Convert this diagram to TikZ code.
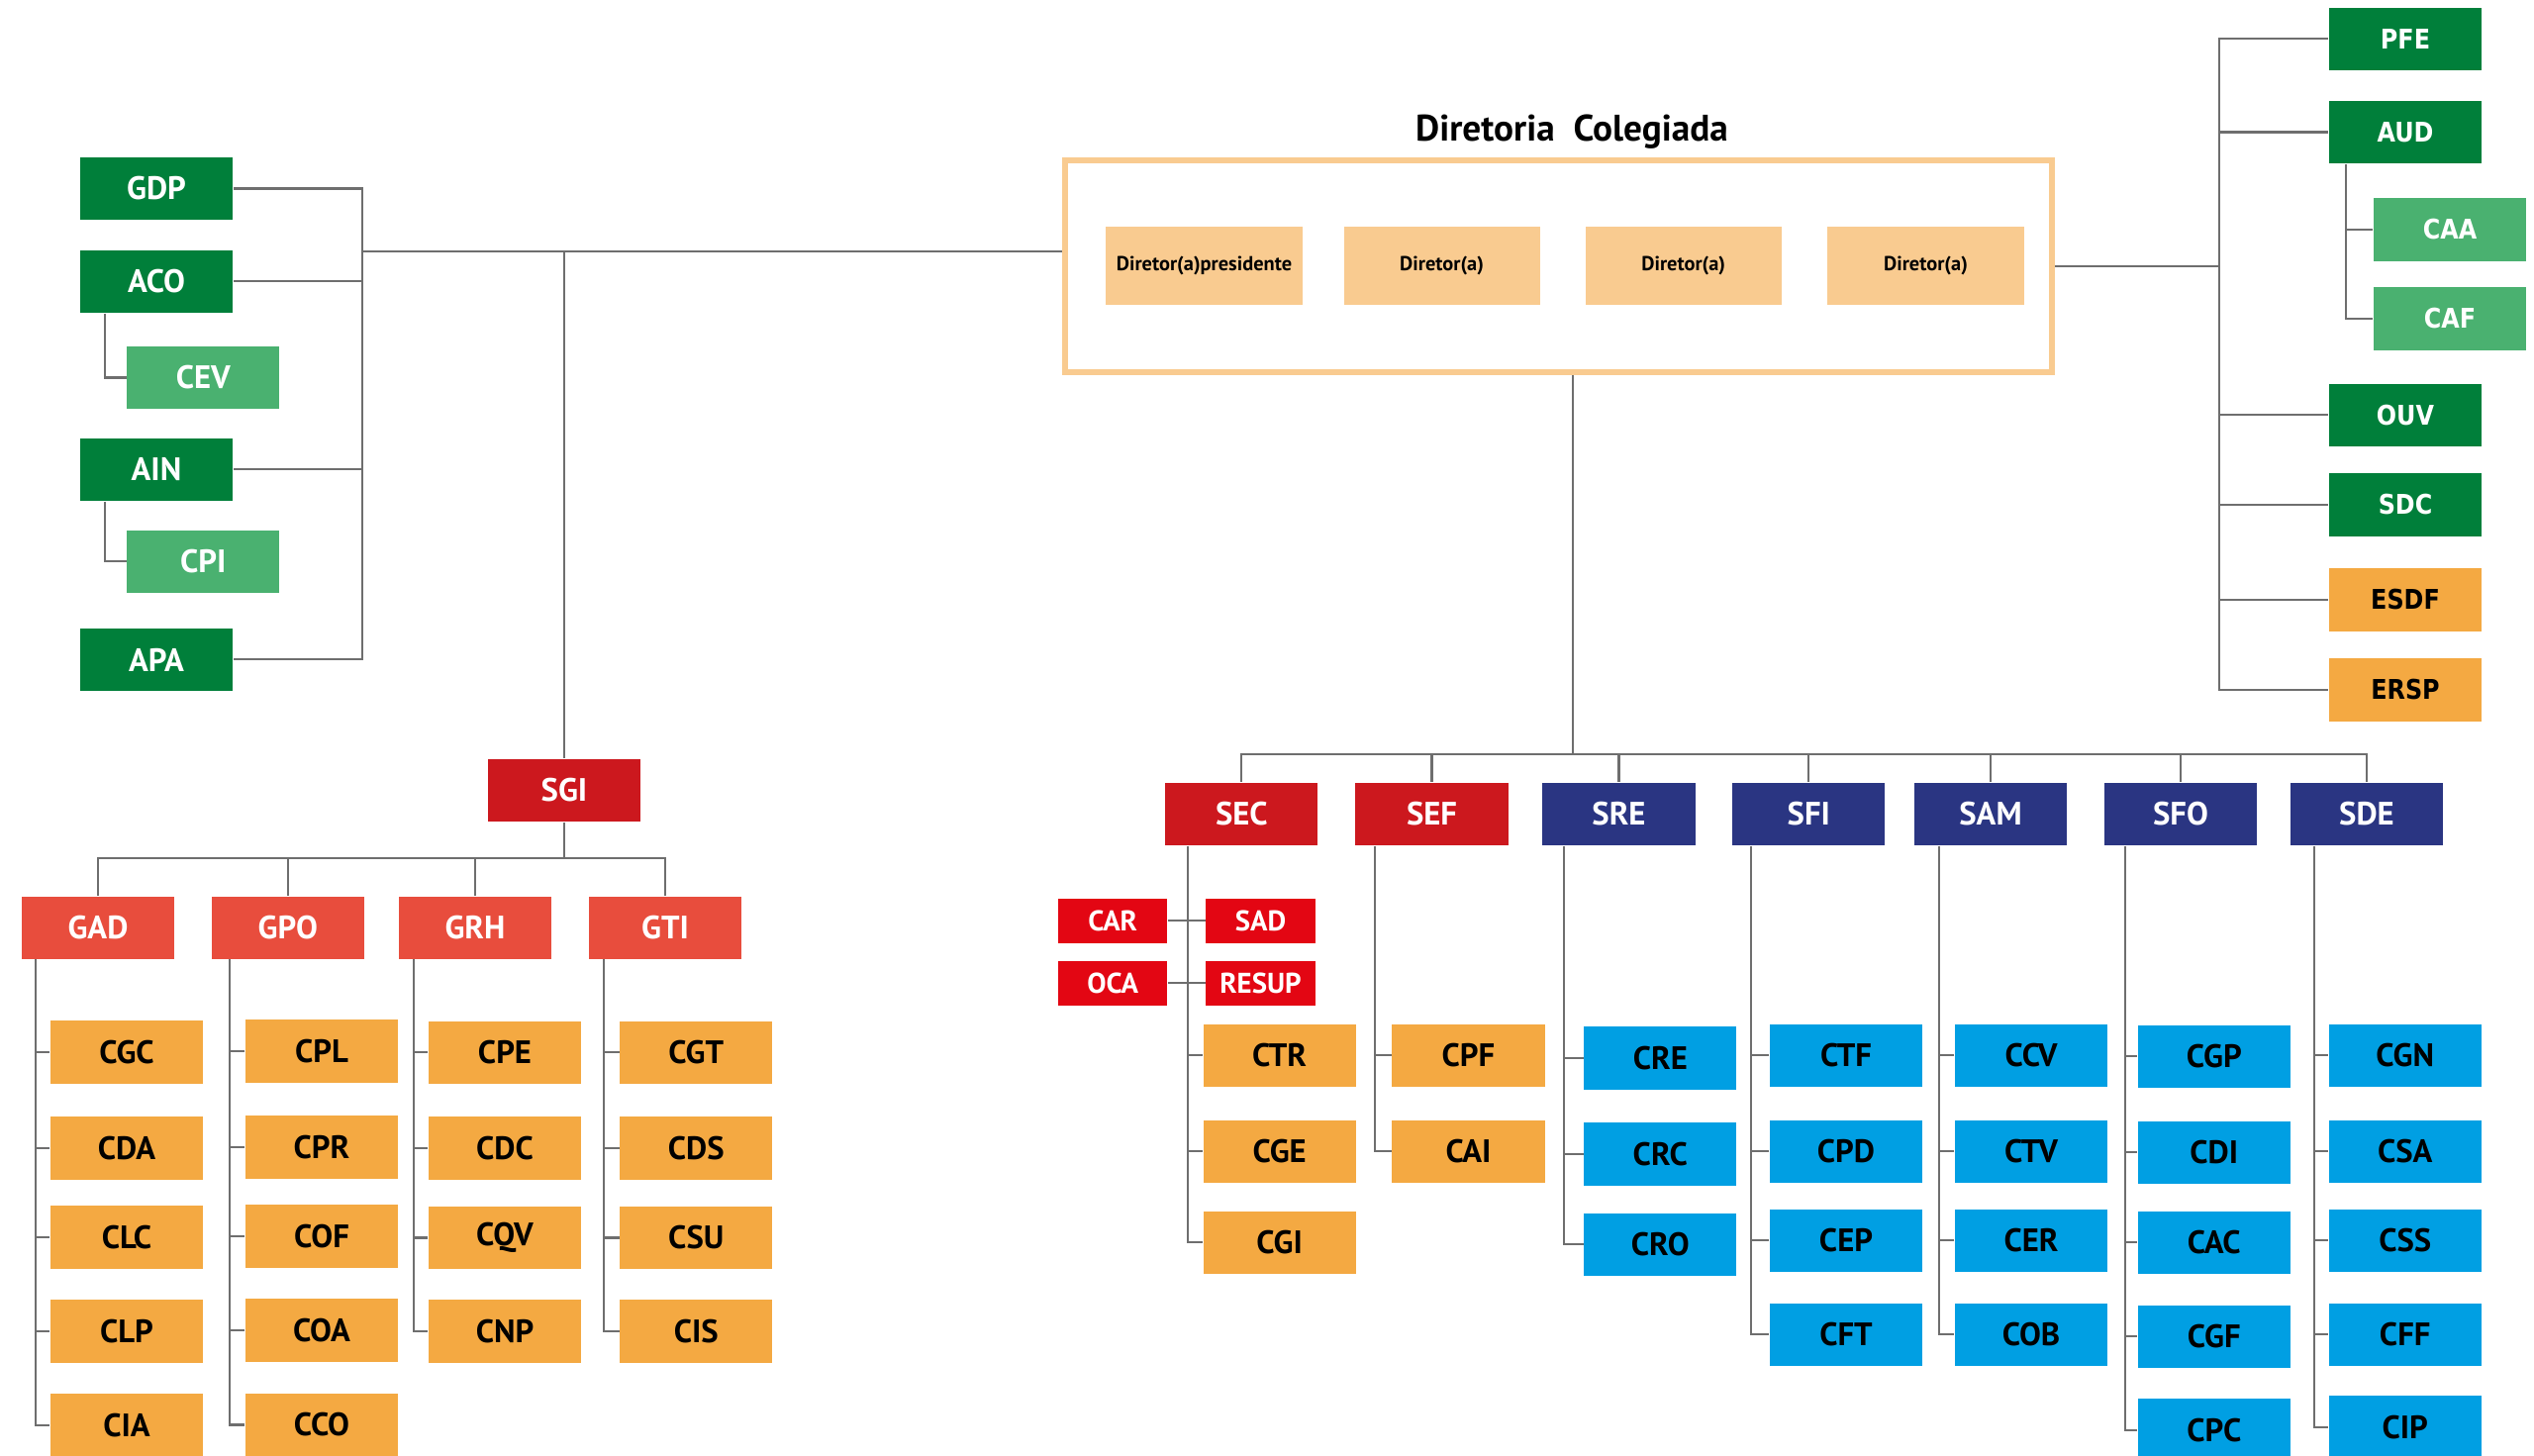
\documentclass[tikz,border=0pt]{standalone}
\usepackage{fontspec}
\setmainfont{PT Sans}
\newfontfamily\widefont[FakeStretch=0.87]{DejaVu Sans}
\usetikzlibrary{calc}
\definecolor{darkgreen}{HTML}{007F3A}
\definecolor{lightgreen}{HTML}{4AB170}
\definecolor{unitorange}{HTML}{F4A942}
\definecolor{peach}{HTML}{F9CB90}
\definecolor{darkred}{HTML}{CC181E}
\definecolor{midred}{HTML}{E84D3D}
\definecolor{brightred}{HTML}{E30613}
\definecolor{navyblue}{HTML}{2A3582}
\definecolor{skyblue}{HTML}{009FE3}
\definecolor{linegray}{HTML}{6E6E6E}

\tikzset{
  unit/.style={rectangle, inner sep=0pt, minimum width=1.54cm, minimum height=0.63cm,
    font=\bfseries\fontsize{9.3}{11}\selectfont},
  gbox/.style={unit, fill=darkgreen, text=white},
  lgbox/.style={unit, fill=lightgreen, text=white},
  obox/.style={unit, fill=unitorange},
  rbox/.style={unit, fill=darkred, text=white},
  mbox/.style={unit, fill=midred, text=white},
  nbox/.style={unit, fill=navyblue, text=white},
  cbox/.style={unit, fill=skyblue},
  sbox/.style={unit, minimum width=1.10cm, minimum height=0.45cm, fill=brightred, text=white,
    font=\bfseries\fontsize{8.2}{10}\selectfont},
  dbox/.style={rectangle, inner sep=0pt, minimum width=1.98cm, minimum height=0.78cm,
    fill=peach, font=\bfseries\fontsize{5.8}{7}\selectfont},
  wide/.style={font=\widefont\bfseries\fontsize{7.8}{9}\selectfont},
  link/.style={draw=linegray, line width=0.6pt},
}

\begin{document}
\begin{tikzpicture}[x=0.01cm, y=-0.01cm]
  \useasboundingbox (0,0) rectangle (2560,1471);
  \clip (0,0) rectangle (2560,1471);

  % diretoria colegiada
  \node[font=\bfseries\fontsize{10.6}{12}\selectfont, anchor=base] (titulo) at (1588,143) {Diretoria\ \ Colegiada};
  \node[draw=peach, line width=0.06cm, minimum width=9.97cm, minimum height=2.14cm, inner sep=0pt] (dir) at (1574.5,269) {};
  \node[dbox] (pres) at (1216.5,268.5) {Diretor(a)presidente};
  \node[dbox] (dirA) at (1456.6,268.5) {\raisebox{1.5pt}{Diretor(a)}};
  \node[dbox] (dirB) at (1700.7,268.5) {\raisebox{1.5pt}{Diretor(a)}};
  \node[dbox] (dirC) at (1945.5,268.5) {\raisebox{1.5pt}{Diretor(a)}};

  % lado esquerdo
  \foreach \n/\y in {GDP/190.5, ACO/284.4, AIN/474.4, APA/666.4}
    \node[gbox] (\n) at (158,\y) {\n};
  \node[lgbox] (CEV) at (205.3,381.5) {CEV};
  \node[lgbox] (CPI) at (205.3,567.4) {CPI};

  % lado direito
  \foreach \n/\y in {PFE/39.4, AUD/133.5, OUV/419.4, SDC/510}
    \node[gbox, wide] (\n) at (2430,\y) {\n};
  \foreach \n/\y in {CAA/232, CAF/322}
    \node[lgbox, wide] (\n) at (2475,\y) {\n};
  \foreach \n/\y in {ESDF/606, ERSP/697}
    \node[obox, wide] (\n) at (2430,\y) {\n};

  % SGI
  \node[rbox] (SGI) at (570,798.3) {SGI};
  \foreach \n/\x in {GAD/99, GPO/290.8, GRH/480, GTI/672}
    \node[mbox] (\n) at (\x,937.2) {\n};
  \foreach \n/\y in {CGC/1063, CDA/1160, CLC/1250, CLP/1345, CIA/1440}
    \node[obox] (\n) at (128,\y) {\n};
  \foreach \n/\y in {CPL/1062, CPR/1159, COF/1249, COA/1344, CCO/1439.5}
    \node[obox] (\n) at (325,\y) {\n};
  \foreach \n/\y in {CPE/1063.4, CDC/1160, CQV/1250.5, CNP/1345}
    \node[obox] (\n) at (510,\y) {\n};
  \foreach \n/\y in {CGT/1063.4, CDS/1160, CSU/1250.5, CIS/1345}
    \node[obox] (\n) at (703.3,\y) {\n};

  % superintendencias
  \foreach \n/\x in {SEC/1254.4, SEF/1446.5}
    \node[rbox] (\n) at (\x,822.3) {\n};
  \foreach \n/\x in {SRE/1635.5, SFI/1827.3, SAM/2011, SFO/2203, SDE/2391}
    \node[nbox] (\n) at (\x,822.3) {\n};
  \node[sbox] (CAR) at (1124.2,930.2) {CAR};
  \node[sbox] (SAD) at (1273.5,930.2) {SAD};
  \node[sbox] (OCA) at (1124.2,993.2) {OCA};
  \node[sbox] (RESUP) at (1273.5,993.2) {RESUP};
  \foreach \n/\y in {CTR/1066.3, CGE/1163.3, CGI/1255.2}
    \node[obox] (\n) at (1292.6,\y) {\n};
  \foreach \n/\y in {CPF/1066.3, CAI/1163.3}
    \node[obox] (\n) at (1483.5,\y) {\n};
  \foreach \n/\y in {CRE/1069, CRC/1166, CRO/1257.3}
    \node[cbox] (\n) at (1677.3,\y) {\n};
  \foreach \n/\y in {CTF/1066.3, CPD/1163.3, CEP/1253.3, CFT/1348.3}
    \node[cbox] (\n) at (1865,\y) {\n};
  \foreach \n/\y in {CCV/1066.3, CTV/1163.3, CER/1253.3, COB/1348.3}
    \node[cbox] (\n) at (2052,\y) {\n};
  \foreach \n/\y in {CGP/1067.3, CDI/1164.3, CAC/1255.2, CGF/1350.3, CPC/1445}
    \node[cbox] (\n) at (2236.8,\y) {\n};
  \foreach \n/\y in {CGN/1066.3, CSA/1163.3, CSS/1253.3, CFF/1348.3, CIP/1441.8}
    \node[cbox] (\n) at (2429.7,\y) {\n};

  % ligacoes
  \coordinate (lbar) at (366,254);
  \draw[link] (GDP.east) -- (GDP.east -| lbar) -- (APA.east -| lbar) -- (APA.east);
  \foreach \n in {ACO, AIN}
    \draw[link] (\n.east) -- (\n.east -| lbar);
  \draw[link] (lbar) -- (lbar -| dir.west);
  \draw[link] (SGI.north) -- (SGI.north |- lbar);
  \draw[link] ([xshift=0.258cm]ACO.south west) |- (CEV.west);
  \draw[link] ([xshift=0.258cm]AIN.south west) |- (CPI.west);

  \coordinate (rbar) at (2242,269);
  \draw[link] (dir.east) -- (rbar);
  \draw[link] (PFE.west) -- (PFE.west -| rbar) -- (ERSP.west -| rbar) -- (ERSP.west);
  \foreach \n in {AUD, OUV, SDC, ESDF}
    \draw[link] (\n.west) -- (\n.west -| rbar);
  \coordinate (AUD-v) at ([xshift=0.18cm]AUD.south west);
  \draw[link] (AUD-v) |- (CAF.west);
  \draw[link] (CAA.west) -- (CAA.west -| AUD-v);

  \coordinate (gbar) at (570,866.8);
  \draw[link] (SGI.south) -- (gbar);
  \draw[link] (GAD.north) -- (GAD.north |- gbar) -- (GTI.north |- gbar) -- (GTI.north);
  \foreach \n in {GPO, GRH}
    \draw[link] (\n.north) -- (\n.north |- gbar);

  \coordinate (sbar) at (1589,762);
  \draw[link] (dir.south -| sbar) -- (sbar);
  \draw[link] (SEC.north) -- (SEC.north |- sbar) -- (SDE.north |- sbar) -- (SDE.north);
  \foreach \n in {SEF, SRE, SFI, SAM, SFO}
    \draw[link] (\n.north) -- (\n.north |- sbar);
  \draw[link] (CAR.east) -- (SAD.west);
  \draw[link] (OCA.east) -- (RESUP.west);

  \foreach \p/\s/\last/\kids in {GAD/0.147/CIA/{CGC,CDA,CLC,CLP}, GPO/0.19/CCO/{CPL,CPR,COF,COA},
      GRH/0.16/CNP/{CPE,CDC,CQV}, GTI/0.153/CIS/{CGT,CDS,CSU}, SEC/0.23/CGI/{CTR,CGE},
      SEF/0.2/CAI/{CPF}, SRE/0.22/CRO/{CRE,CRC}, SFI/0.194/CFT/{CTF,CPD,CEP},
      SAM/0.26/COB/{CCV,CTV,CER}, SFO/0.22/CPC/{CGP,CDI,CAC,CGF}, SDE/0.25/CIP/{CGN,CSA,CSS,CFF}} {
    \coordinate (\p-v) at ([xshift=\s cm]\p.south west);
    \draw[link] (\p-v) |- (\last.west);
    \foreach \k in \kids
      \draw[link] (\k.west) -- (\k.west -| \p-v);
  }
\end{tikzpicture}
\end{document}
